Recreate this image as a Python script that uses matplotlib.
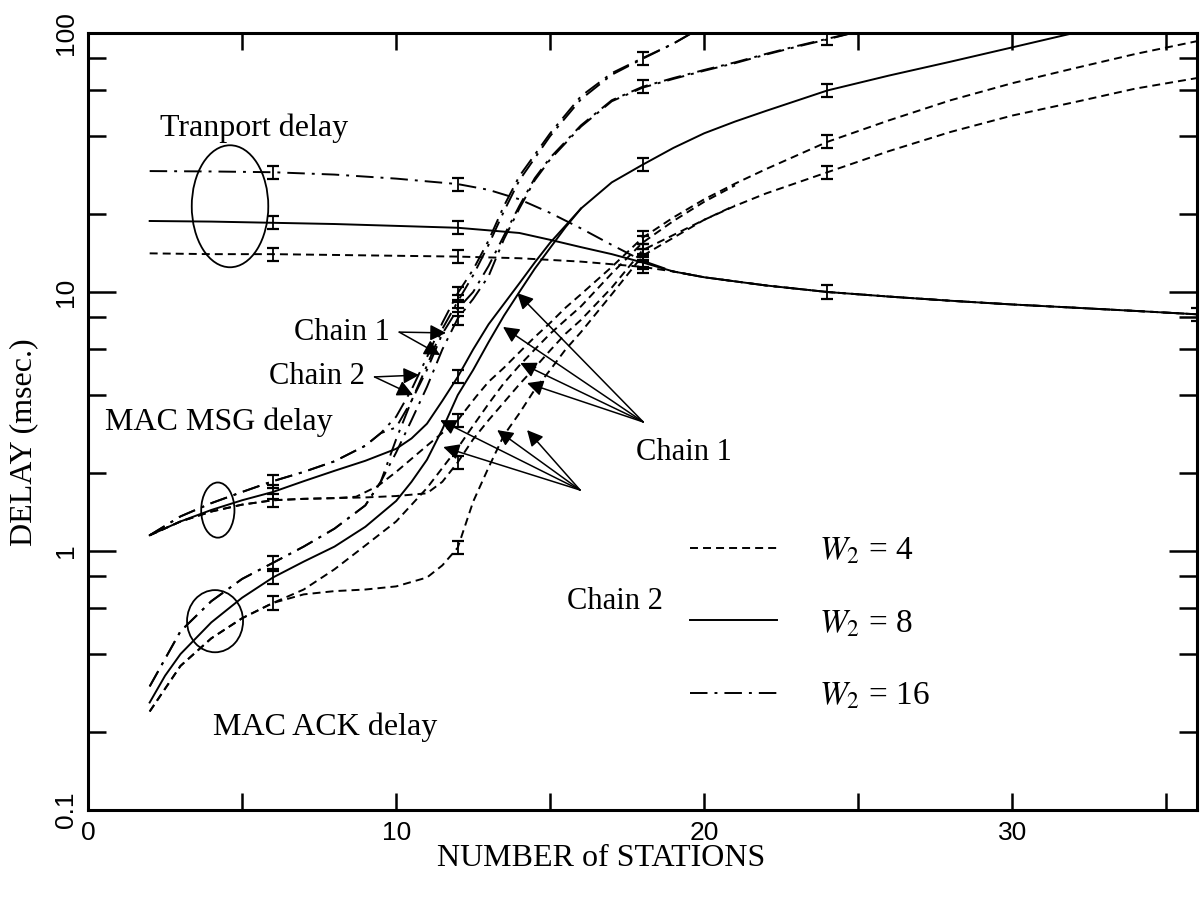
import numpy as np
import matplotlib.pyplot as plt
from matplotlib.patches import Ellipse
from matplotlib.ticker import FixedLocator, NullFormatter

plt.rcParams['font.family'] = ['Liberation Serif', 'DejaVu Serif']
plt.rcParams['mathtext.fontset'] = 'stix'

# ---------------- transport delay (all three merge beyond ~18 stations)
tr_x = [2, 4, 6, 8, 10, 12, 13, 14, 15, 16, 17, 18, 19, 20, 22, 24, 26, 28, 30, 32, 34, 36]
tr_w4 = [14.1, 14.0, 14.0, 13.9, 13.8, 13.7, 13.6, 13.5, 13.3, 13.1, 12.8, 12.5,
         12.0, 11.4, 10.6, 10.0, 9.6, 9.25, 8.95, 8.7, 8.45, 8.2]
tr_w8 = [18.8, 18.7, 18.5, 18.3, 18.0, 17.7, 17.3, 16.9, 15.9, 14.9, 14.0, 13.0,
         12.0, 11.4, 10.6, 10.0, 9.6, 9.25, 8.95, 8.7, 8.45, 8.2]
tr_w16 = [29.3, 29.2, 29.0, 28.4, 27.4, 26.1, 24.8, 22.8, 20.2, 17.6, 15.2, 13.2,
          12.0, 11.4, 10.6, 10.0, 9.6, 9.25, 8.95, 8.7, 8.45, 8.2]

# ---------------- MAC MSG delay
msg4_c1_x = [2, 3, 4, 5, 6, 7, 8, 9, 10, 11, 11.5, 12, 12.5, 13, 13.5, 14, 14.5, 15, 15.5,
             16, 17, 18, 19, 20, 21, 22, 24, 26, 28, 30, 32, 34, 36]
msg4_c1 = [1.15, 1.30, 1.42, 1.51, 1.57, 1.59, 1.60, 1.61, 1.63, 1.67, 1.85, 2.2, 2.7, 3.2,
           3.75, 4.4, 5.1, 5.95, 6.9, 7.8, 10.4, 14.5, 16.6, 19.0, 21.5, 24.0, 29.0, 35.0,
           41.5, 48.0, 54.0, 61.0, 67.0]
msg4_c2_x = [2, 3, 4, 5, 6, 7, 8, 8.7, 9.4, 10, 11, 12, 12.6, 13, 13.5, 14, 14.5, 15, 15.5,
             16, 17, 18, 19, 20, 21, 22, 24, 26, 28, 30, 32, 34, 36]
msg4_c2 = [1.15, 1.30, 1.42, 1.51, 1.57, 1.59, 1.60, 1.62, 1.78, 2.02, 2.55, 3.2, 3.95, 4.5,
           5.1, 5.85, 6.7, 7.6, 8.7, 9.8, 12.5, 16.2, 19.4, 22.8, 26.2, 29.8, 38.0, 46.0,
           55.0, 64.0, 73.0, 83.0, 93.0]
msg8_x = [2, 3, 4, 5, 6, 7, 8, 9, 10, 10.5, 11, 11.5, 12, 12.5, 13, 13.5, 14, 14.5, 15, 16,
          17, 18, 19, 20, 21, 22, 24, 26, 28, 30, 32]
msg8 = [1.15, 1.30, 1.44, 1.57, 1.69, 1.86, 2.04, 2.23, 2.48, 2.72, 3.1, 3.8, 4.7, 6.0, 7.5,
        9.0, 10.8, 13.0, 15.5, 21.0, 26.5, 31.0, 36.0, 41.0, 45.5, 50.0, 60.0, 68.5, 77.5,
        88.0, 100.0]
msg16_c1_x = [2, 3, 4, 5, 6, 7, 8, 9, 9.5, 10, 10.5, 11, 11.5, 12, 12.5, 13, 13.5, 14, 14.5,
              15, 16, 17, 18, 19, 20, 21, 22, 23, 24, 24.8]
msg16_c1 = [1.15, 1.36, 1.53, 1.69, 1.86, 2.02, 2.22, 2.55, 2.85, 3.0, 3.8, 5.0, 6.9, 8.6,
            10.0, 12.6, 16.5, 21.5, 27.5, 33.0, 44.0, 55.0, 62.0, 67.0, 72.0, 77.0, 83.0,
            89.0, 95.0, 100.0]
msg16_c2_x = [2, 3, 4, 5, 6, 7, 8, 9, 9.5, 10, 10.5, 11, 11.5, 12, 12.5, 13, 13.5, 14, 15,
              16, 17, 18, 19, 19.6]
msg16_c2 = [1.15, 1.36, 1.53, 1.69, 1.86, 2.02, 2.22, 2.55, 2.85, 3.3, 4.2, 5.6, 7.6, 9.9,
            12.2, 15.8, 21.5, 28.0, 41.0, 57.0, 70.0, 80.0, 91.0, 100.0]

# ---------------- MAC ACK delay
ack4_c1_x = [2, 3, 4, 5, 6, 7, 8, 9, 10, 11, 11.5, 12, 12.5, 13, 13.5, 14, 14.5, 15, 15.5,
             16, 17, 18, 19, 20, 21]
ack4_c1 = [0.24, 0.36, 0.46, 0.55, 0.63, 0.68, 0.70, 0.71, 0.73, 0.79, 0.88, 1.03, 1.55,
           2.1, 2.8, 3.4, 4.2, 5.0, 6.0, 7.0, 9.8, 13.8, 16.2, 19.0, 21.6]
ack4_c2_x = [2, 3, 4, 5, 6, 7, 8, 9, 10, 11, 12, 12.4, 13, 13.5, 14, 14.5, 15, 15.5, 16, 17,
             18, 19, 20, 21]
ack4_c2 = [0.24, 0.36, 0.46, 0.55, 0.63, 0.71, 0.85, 1.05, 1.30, 1.75, 2.5, 2.93, 3.7,
           4.45, 5.2, 6.0, 6.9, 7.8, 8.8, 11.8, 15.5, 18.8, 22.3, 25.8]
ack8_x = [2, 2.5, 3, 4, 5, 6, 7, 8, 9, 10, 10.5, 11, 11.5, 12, 12.5, 13, 13.5, 14, 14.5,
          15, 15.5, 16]
ack8 = [0.26, 0.33, 0.40, 0.53, 0.66, 0.79, 0.91, 1.04, 1.24, 1.56, 1.85, 2.25, 2.95, 4.0,
        5.0, 6.4, 8.1, 10.0, 12.3, 14.8, 17.8, 21.0]
ack16_c1_x = [2, 3, 4, 5, 6, 7, 8, 9, 9.5, 10, 10.5, 11, 11.5, 12, 12.5, 13, 13.5, 14, 14.5,
              15, 16, 17, 18, 19, 20, 21, 22, 23, 24, 24.8]
ack16_c1 = [0.30, 0.49, 0.64, 0.78, 0.90, 1.04, 1.22, 1.50, 1.85, 2.4, 3.2, 4.3, 6.0, 7.9,
            9.4, 11.5, 16.0, 21.0, 27.0, 32.5, 43.5, 54.5, 61.5, 66.5, 71.5, 76.5, 82.5,
            88.5, 94.5, 100.0]
ack16_c2_x = [2, 3, 4, 5, 6, 7, 8, 9, 9.5, 10, 10.5, 11, 11.5, 12, 12.5, 13, 13.5, 14, 15,
              16, 17, 18, 19, 19.6]
ack16_c2 = [0.30, 0.49, 0.64, 0.78, 0.90, 1.04, 1.22, 1.50, 1.85, 2.7, 3.8, 5.2, 7.2, 9.2,
            11.6, 15.2, 20.5, 27.0, 40.0, 55.5, 69.0, 79.5, 91.0, 100.0]

# line styles for the three window sizes
ls = {4: (0, (4.1, 2.6)), 8: '-', 16: (0, (9.0, 3.6, 1.5, 3.6))}

# (x, y, window, points that carry simulation error bars)
curves = [
    (tr_x, tr_w4, 4, [6, 12, 18]),
    (tr_x, tr_w8, 8, [6, 12, 18, 24, 36]),
    (tr_x, tr_w16, 16, [6, 12, 18]),
    (msg4_c1_x, msg4_c1, 4, [6, 12, 18, 24]),
    (msg4_c2_x, msg4_c2, 4, [12, 18, 24]),
    (msg8_x, msg8, 8, [6, 12, 18, 24]),
    (msg16_c1_x, msg16_c1, 16, [12, 18, 24]),
    (msg16_c2_x, msg16_c2, 16, [6, 12, 18]),
    (ack4_c1_x, ack4_c1, 4, [6, 12, 18]),
    (ack4_c2_x, ack4_c2, 4, [18]),
    (ack8_x, ack8, 8, [6]),
    (ack16_c1_x, ack16_c1, 16, [12]),
    (ack16_c2_x, ack16_c2, 16, [6, 12]),
]

fig = plt.figure(figsize=(12.03, 8.99), dpi=100)
ax = fig.add_axes([0.0732, 0.0990, 0.9219, 0.8643])
ax.set_yscale('log')

handles = {}
for x, y, w, ebx in curves:
    x = np.asarray(x, dtype=float)
    y = np.asarray(y, dtype=float)
    line, = ax.plot(x, y, color='k', lw=1.4, linestyle=ls[w])
    handles.setdefault(w, line)
    sel = np.isin(x, ebx)
    yy = y[sel]
    ax.errorbar(x[sel], yy, yerr=[yy - yy / 1.06, yy * 1.06 - yy], fmt='none',
                ecolor='k', elinewidth=1.3, capsize=4, capthick=1.6)

ax.set_xlim(0, 36)
ax.set_ylim(0.1, 100)

# frame and ticks
for s in ax.spines.values():
    s.set_linewidth(2.2)
ax.xaxis.set_major_locator(FixedLocator(np.arange(0, 36, 5)))
ax.set_xticklabels(['0', '', '10', '', '20', '', '30', ''], family='Liberation Sans', fontsize=19)
ax.yaxis.set_major_locator(FixedLocator([0.1, 1, 10, 100]))
ax.yaxis.set_minor_locator(FixedLocator([m * d for d in (0.1, 1, 10) for m in (2, 4, 6, 8)]))
ax.yaxis.set_minor_formatter(NullFormatter())
ax.set_yticklabels(['0.1', '1', '10', '100'], family='Liberation Sans', fontsize=19,
                   rotation=90, va='center')
ax.tick_params(axis='x', which='major', direction='in', length=12, width=1.8,
               top=True, bottom=True, pad=8)
ax.tick_params(axis='y', which='major', direction='in', length=20, width=1.8,
               left=True, right=True, pad=7)
ax.tick_params(axis='y', which='minor', direction='in', length=13, width=1.8,
               left=True, right=True)

ax.set_xlabel('NUMBER of STATIONS', fontsize=23)
ax.xaxis.set_label_coords(0.463, -0.062)
ax.xaxis.label.set_va('center')
ax.set_ylabel('DELAY (msec.)', fontsize=23, va='center')
ax.yaxis.set_label_coords(-0.058, 0.474)

# group labels and the ellipses that tie them to their curves
ax.text(2.34, 43, 'Tranport delay', fontsize=23, va='center')
ax.text(0.55, 3.15, 'MAC MSG delay', fontsize=23, va='center')
ax.text(4.06, 0.209, 'MAC ACK delay', fontsize=23, va='center')
for cx, cy, ew, eh in [(0.128, 0.777, 0.069, 0.157),
                       (0.117, 0.386, 0.030, 0.071),
                       (0.1145, 0.243, 0.0505, 0.080)]:
    ax.add_patch(Ellipse((cx, cy), ew, eh, transform=ax.transAxes,
                         fill=False, ec='k', lw=1.3))

# chain pointers
arrow = dict(arrowstyle='-|>', color='k', lw=1.1, mutation_scale=24,
             shrinkA=0, shrinkB=0)
pointers = [
    ('Chain 1', (10.1, 7.0), 'right', [(11.62, 6.95), (11.43, 5.71)]),
    ('Chain 2', (9.3, 4.7), 'right', [(10.75, 4.78), (10.55, 4.0)]),
    ('Chain 1', (18.02, 3.15), None, [(13.93, 9.91), (13.47, 7.33), (14.03, 5.32), (14.25, 4.45)]),
    ('Chain 2', (15.97, 1.72), None, [(11.43, 3.2), (11.53, 2.52), (13.28, 2.93), (14.25, 2.93)]),
]
for label, src, ha, tips in pointers:
    for tip in tips:
        ax.annotate('', xy=tip, xytext=src, arrowprops=arrow)
    if ha == 'right':
        ax.text(src[0] - 0.3, src[1], label, fontsize=22, ha='right', va='center')
ax.text(17.8, 2.41, 'Chain 1', fontsize=22, va='center')
ax.text(15.55, 0.64, 'Chain 2', fontsize=22, va='center')

ax.legend([handles[4], handles[8], handles[16]],
          [r'$W_2$ = 4', r'$W_2$ = 8', r'$W_2$ = 16'],
          loc='upper left', bbox_to_anchor=(0.543, 0.352), frameon=False,
          fontsize=24, handlelength=2.6, handletextpad=1.25, labelspacing=1.25,
          borderpad=0, borderaxespad=0)

fig.savefig('out.png', dpi=100)
